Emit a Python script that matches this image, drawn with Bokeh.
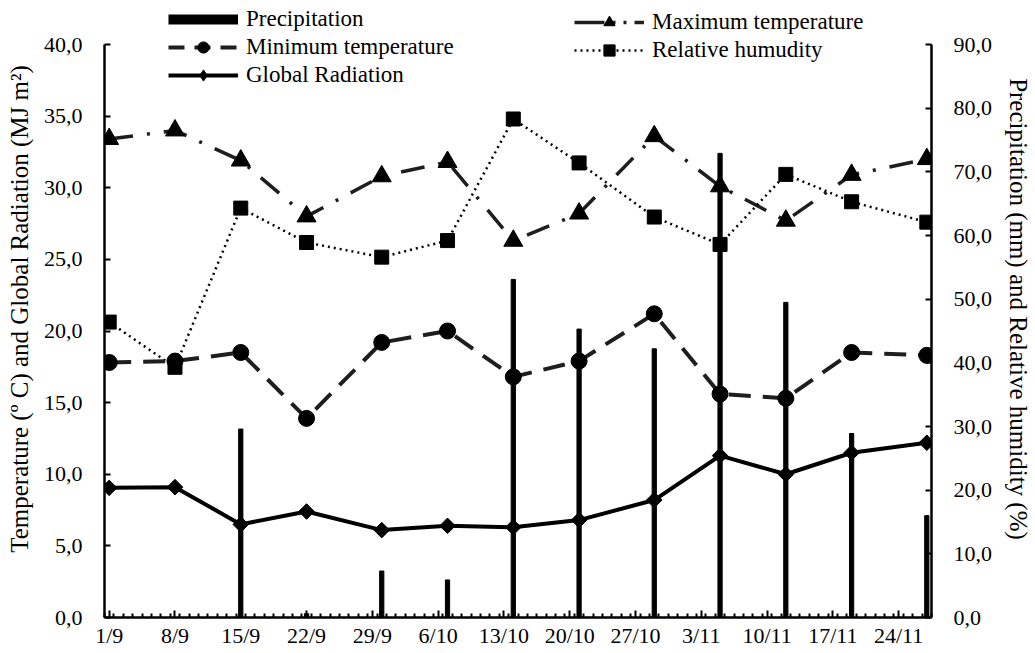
from bokeh.plotting import figure
from bokeh.models import (Range1d, LinearAxis, FixedTicker, Legend, LegendItem)
from bokeh.embed import file_html
from bokeh.resources import INLINE
import math

# ---------------- data ----------------
day_labels = ["1/9", "8/9", "15/9", "22/9", "29/9", "6/10", "13/10",
              "20/10", "27/10", "3/11", "10/11", "17/11", "24/11"]
label_days = [0, 7, 14, 21, 28, 35, 42, 49, 56, 63, 70, 77, 84]
n_days = 88

obs_days = [0, 7, 14, 21, 29, 36, 43, 50, 58, 65, 72, 79, 87]
max_temp = [33.4, 34.0, 31.9, 28.0, 30.8, 31.8, 26.3, 28.2, 33.6, 30.1, 27.7, 30.9, 32.0]
min_temp = [17.8, 17.9, 18.5, 13.9, 19.2, 20.0, 16.8, 17.9, 21.2, 15.6, 15.3, 18.5, 18.3]
radiation = [9.05, 9.1, 6.5, 7.4, 6.1, 6.4, 6.3, 6.8, 8.2, 11.3, 10.0, 11.5, 12.2]
humidity = [46.4, 39.3, 64.3, 58.9, 56.6, 59.2, 78.3, 71.4, 62.9, 58.6, 69.6, 65.3, 62.1]
precip = [0.0, 0.0, 29.6, 0.6, 7.3, 5.9, 53.1, 45.3, 42.2, 72.9, 49.5, 28.9, 16.0]

left_ticks = [0, 5, 10, 15, 20, 25, 30, 35, 40]
right_ticks = [0, 10, 20, 30, 40, 50, 60, 70, 80, 90]

FONT = "Liberation Serif"
LINE_COL = "#1e1e1e"

FRAME_H = 617          # frame reaches the top of the page so the legend fits inside it
AXIS_H = 573           # pixel height of the 0..40 / 0..90 scales
left_top = 40 * FRAME_H / AXIS_H
right_top = 90 * FRAME_H / AXIS_H

p = figure(width=1035, height=653, output_backend="svg", toolbar_location=None,
           x_range=Range1d(-0.5, n_days - 0.5), y_range=Range1d(0, left_top),
           min_border_left=104, min_border_right=99, min_border_top=0,
           min_border_bottom=36)
p.extra_y_ranges = {"right": Range1d(0, right_top)}
p.outline_line_color = None
p.xgrid.visible = False
p.ygrid.visible = False
p.background_fill_color = "white"

# precipitation bars (right axis)
p.vbar(x=obs_days, top=precip, width=0.45, bottom=0, color="black",
       y_range_name="right")

# max temperature
p.line(obs_days, max_temp, line_color=LINE_COL, line_width=3.5,
       line_dash="24 14 3 14")
p.scatter(obs_days, max_temp, marker="triangle", size=19, color="black")

# relative humidity (right axis)
p.line(obs_days, humidity, line_color="black", line_width=2.5,
       line_dash="2 4", y_range_name="right")
p.scatter(obs_days, humidity, marker="square", size=14, color="black",
          y_range_name="right")

# minimum temperature
p.line(obs_days, min_temp, line_color=LINE_COL, line_width=4,
       line_dash="22 12")
p.scatter(obs_days, min_temp, marker="circle", size=16, color="black")

# global radiation
p.line(obs_days, radiation, line_color="black", line_width=4)
p.scatter(obs_days, radiation, marker="square", size=11, angle=math.pi / 4,
          color="black")

# ---------------- axes ----------------
def style_axis(ax):
    ax.axis_line_width = 2.5
    ax.axis_line_color = "black"
    ax.major_tick_line_width = 2
    ax.minor_tick_line_width = 2
    ax.major_tick_line_color = "black"
    ax.minor_tick_line_color = "black"
    ax.major_label_text_font = FONT
    ax.major_label_text_font_size = "22px"
    ax.major_label_text_color = "black"
    ax.axis_label_text_font = FONT
    ax.axis_label_text_font_size = "25px"
    ax.axis_label_text_font_style = "normal"
    ax.axis_label_text_color = "black"

xa = p.xaxis[0]
style_axis(xa)
xa.ticker = FixedTicker(ticks=label_days,
                        minor_ticks=[d - 0.5 for d in range(n_days + 1)])
xa.major_label_overrides = {d: lab for d, lab in zip(label_days, day_labels)}
xa.major_tick_in = 7
xa.major_tick_out = 0
xa.minor_tick_in = 4
xa.minor_tick_out = 0
xa.major_label_standoff = 5

ya = p.yaxis[0]
style_axis(ya)
ya.bounds = (0, 40)
ya.ticker = FixedTicker(ticks=left_ticks, minor_ticks=[])
ya.major_label_overrides = {t: f"{t},0" for t in left_ticks}
ya.major_tick_in = 6
ya.major_tick_out = 0
ya.major_label_standoff = 22
ya.axis_label = "Temperature (º C) and Global Radiation (MJ m²)"
ya.axis_label_standoff = 8

ra = LinearAxis(y_range_name="right")
style_axis(ra)
ra.bounds = (0, 90)
ra.ticker = FixedTicker(ticks=right_ticks, minor_ticks=[])
ra.major_label_overrides = {t: f"{t},0" for t in right_ticks}
ra.major_tick_in = 6
ra.major_tick_out = 0
ra.major_label_standoff = 22
ra.axis_label = "Precipitation (mm) and Relative humidity (%)"
ra.axis_label_standoff = 10
p.add_layout(ra, "right")

# ---------------- legends (proxy renderers placed outside the view) ----------------
ox, oy = [-20, -19], [-20, -20]
lg_prec = p.line(ox, oy, line_color="black", line_width=10)
lg_min_l = p.line(ox, oy, line_color=LINE_COL, line_width=4, line_dash="16 10")
lg_min_m = p.scatter(ox, oy, marker="circle", color="black")
lg_rad_l = p.line(ox, oy, line_color="black", line_width=4)
lg_rad_m = p.scatter(ox, oy, marker="diamond", color="black")
lg_max_l = p.line(ox, oy, line_color=LINE_COL, line_width=3.5,
                  line_dash="30 8 3 8 3 8")
lg_max_m = p.scatter(ox, oy, marker="triangle", color="black")
lg_rh_l = p.line(ox, oy, line_color="black", line_width=2.5, line_dash="2 4")
lg_rh_m = p.scatter(ox, oy, marker="square", color="black")

def make_legend(items, loc):
    lg = Legend(items=items, location=loc)
    lg.glyph_width = 70
    lg.glyph_height = 28
    lg.label_height = 28
    lg.spacing = -3
    lg.padding = 0
    lg.margin = 0
    lg.label_standoff = 8
    lg.label_text_font = FONT
    lg.label_text_font_size = "23px"
    lg.label_text_color = "black"
    lg.background_fill_alpha = 0
    lg.border_line_alpha = 0
    return lg

leg1 = make_legend([
    LegendItem(label="Precipitation", renderers=[lg_prec]),
    LegendItem(label="Minimum temperature", renderers=[lg_min_l, lg_min_m]),
    LegendItem(label="Global Radiation", renderers=[lg_rad_l, lg_rad_m]),
], (64, 528))
leg2 = make_legend([
    LegendItem(label="Maximum temperature", renderers=[lg_max_l, lg_max_m]),
    LegendItem(label="Relative humudity", renderers=[lg_rh_l, lg_rh_m]),
], (470, 553))
p.add_layout(leg1)
p.add_layout(leg2)

open("out.html", "w").write(file_html(p, INLINE))
